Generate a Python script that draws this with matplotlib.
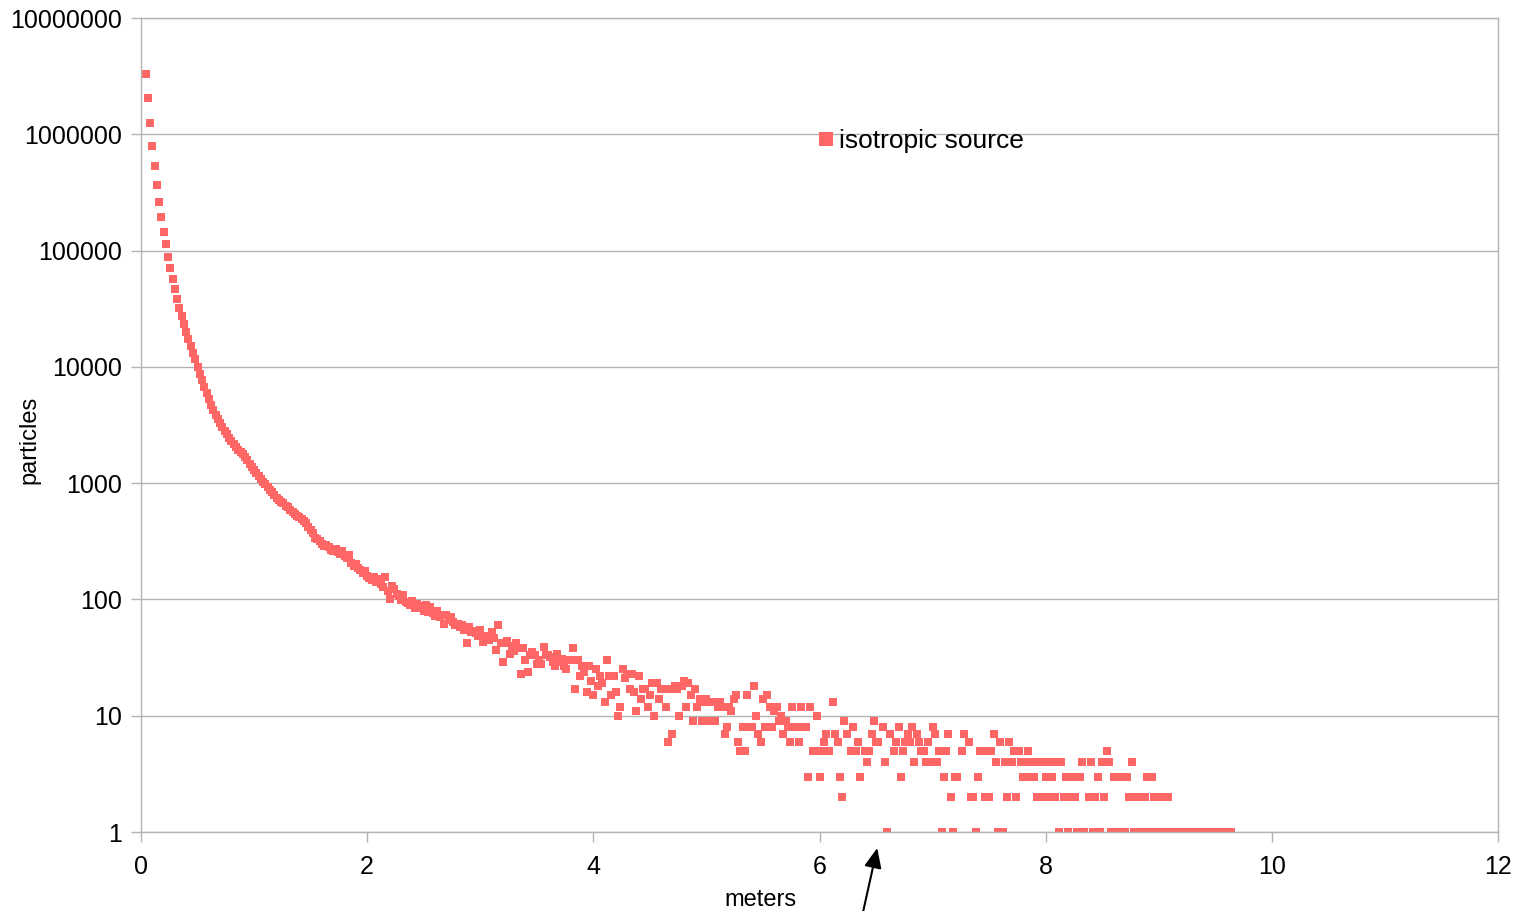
import numpy as np
import matplotlib.pyplot as plt
from matplotlib.ticker import FuncFormatter, NullLocator, FixedLocator

plt.rcParams['font.family'] = ['Liberation Sans', 'DejaVu Sans']

# particle counts per 0.02 m distance bin
bin_width = 0.02

start_a = 0.04
counts_a = [3300000, 2060000, 1250000, 790000, 530000, 366000, 263000, 195000, 145000, 113000, 88500,
            71000, 57000, 46700, 38500, 32200, 27500, 23300, 20000, 17500, 15100, 13200, 11600,
            10000, 8700, 7670, 6760, 5960, 5310, 4730, 4250,
            3890, 3570, 3300, 3050, 2820, 2630, 2450, 2290, 2150, 2030, 1930, 1850,
            1770, 1670, 1570, 1470, 1380, 1300, 1230, 1160, 1090, 1030, 977, 925, 877, 832, 789,
            750, 716, 690, 670, 640, 625, 590, 565, 545, 525, 513]

start_b = 1.42
counts_b = [490, 470, 455, 420, 395, 370, 340, 330, 318, 300,
            290, 292, 280, 268, 262, 270, 258, 248, 262, 235,
            225, 240, 205, 195, 200, 186, 178, 168, 175, 160,
            152, 147, 155, 140, 150, 135, 128, 157, 118, 100,
            130, 124, 112, 108, 98, 110, 95, 93, 90, 96,
            85, 92, 88, 84, 80, 90, 78, 86, 76, 72,
            80, 70, 73, 62, 73, 66, 71, 64, 60, 62,
            58, 60, 55, 42, 58, 52, 54, 51, 48, 55]

start_c = 3.02
counts_c = [43, 48, 45, 45, 52, 47, 37, 60, 42, 29,
            42, 44, 34, 40, 36, 42, 38, 23, 38, 30,
            24, 33, 35, 33, 28, 30, 28, 39, 33, 33,
            32, 29, 27, 34, 29, 31, 27, 25, 30, 30,
            38, 17, 30, 22, 27, 24, 16, 27, 20, 15,
            25, 18, 22, 19, 13, 30, 22, 15, 22, 16,
            10, 12, 25, 21, 23, 17, 23, 16, 11, 22]

start_d = 4.42
counts_d = [14, 17, 17, 12, 15, 19, 10, 19, 14, 17,
            17, 12, 6, 17, 7, 18, 17, 10, 18, 20,
            12, 19, 15, 9, 17, 12, 14, 9, 13, 14,
            9, 13, 13, 9, 12, 13, 12, 7, 8, 12,
            11, 14, 15, 6, 5, 8, 5, 15, 8, 8,
            18, 10, 7, 6, 14, 8, 15, 12, 8, 11,
            12, 9, 10, 7, 9, 8, 6, 12, 8, 8,
            6, 12, 8, 8, 3, 12, 5, 5, 10, 3]

start_e = 6.02
counts_e = [5, 6, 7, 5, 0, 13, 7, 6, 3, 2,
            9, 7, 0, 5, 8, 5, 6, 3, 0, 5,
            4, 5, 7, 9, 6, 6, 0, 8, 4, 1,
            7, 0, 5, 6, 8, 3, 5, 6, 7, 6,
            8, 4, 7, 6, 5, 5, 4, 6, 4, 8,
            7, 4, 5, 1, 3, 5, 7, 2, 1, 3,
            3, 0, 5, 7, 0, 6, 2, 2, 1, 3,
            5, 0, 2, 5, 2, 5, 7, 4, 1, 6,
            1, 4, 2, 6, 4, 5, 2, 5]

start_f = 7.78
counts_f = [4, 3, 4, 5, 3, 4, 3, 2, 4, 2,
            4, 3, 2, 4, 3, 2, 4, 1, 4, 2,
            3, 1, 2, 3, 2, 1, 3, 4, 1, 0,
            2, 4, 1, 2, 3, 1, 4, 2, 5, 4,
            1, 3, 1, 3, 1, 3, 1, 3, 2, 4,
            1, 2, 1, 2, 1, 2, 3, 1, 3, 2,
            1, 2, 1, 2, 1, 2, 1, 1, 1, 1,
            1, 1, 1, 1, 1, 1, 1, 1, 1, 1, 1, 1,
            1, 1, 1, 1, 1, 1, 1, 1, 1, 1, 1, 1]

segments = [(start_a, counts_a), (start_b, counts_b), (start_c, counts_c),
            (start_d, counts_d), (start_e, counts_e), (start_f, counts_f)]

dist = np.concatenate([s + bin_width * np.arange(len(c)) for s, c in segments])
parts = np.concatenate([np.array(c, dtype=float) for s, c in segments])
keep = parts > 0

c1 = '#ff6666'
grey = '#b3b3b3'

fig = plt.figure(figsize=(15.22, 9.11), dpi=100)
ax = fig.add_axes([141/1522, 79/911, 1357/1522, 814/911])

ax.plot(dist[keep], parts[keep], ls='none', marker='s', ms=5.7,
        mfc=c1, mec=c1, mew=0, label='isotropic source')

ax.set_yscale('log')
ax.set_xlim(0, 12)
ax.set_ylim(1, 1e7)
ax.xaxis.set_major_locator(FixedLocator(np.arange(0, 13, 2)))
ax.yaxis.set_major_locator(FixedLocator([10**k for k in range(8)]))
ax.yaxis.set_minor_locator(NullLocator())
ax.yaxis.set_major_formatter(FuncFormatter(lambda v, p: '{}'.format(int(round(v)))))
ax.xaxis.set_major_formatter(FuncFormatter(lambda v, p: '{}'.format(int(round(v)))))

ax.grid(axis='y', color=grey, lw=1)
ax.set_axisbelow(True)
for sp in ax.spines.values():
    sp.set_color(grey)
    sp.set_linewidth(1)
ax.tick_params(axis='x', length=7.2, width=1, color=grey, pad=9.5, labelsize=18)
ax.tick_params(axis='y', length=7.2, width=1, color=grey, pad=6.5, labelsize=18)

ax.set_xlabel('meters', fontsize=17)
ax.xaxis.set_label_coords((761-141)/1357, (832-889)/814)
ax.set_ylabel('particles', fontsize=17)
ax.yaxis.set_label_coords((40-141)/1357, (832-440)/814)

ax.legend(loc='center left', bbox_to_anchor=((815-141)/1357, (832-141)/814),
          frameon=False, fontsize=19, markerscale=1.75, handlelength=0.8,
          handletextpad=0.12, borderpad=0, borderaxespad=0)

# arrow below the axis
ax.annotate('', xy=((878-141)/113.2, 10**(-(848-832)/116.3)),
            xytext=((864-141)/113.2, 10**(-(911-832)/116.3)),
            arrowprops=dict(arrowstyle='-|>,head_length=0.8,head_width=0.35',
                            color='black', lw=1.5, mutation_scale=15, shrinkA=0, shrinkB=0),
            annotation_clip=False)

fig.savefig('out.png', dpi=100)
